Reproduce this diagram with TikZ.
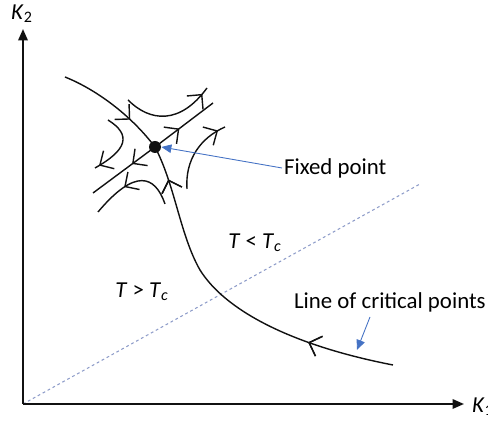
\documentclass[tikz,border=0pt]{standalone}
\usepackage{fontspec}
\setmainfont{Carlito}
\usetikzlibrary{arrows.meta,decorations.markings}
\definecolor{flowink}{HTML}{111111}
\definecolor{callout}{HTML}{4472C4}
\definecolor{critline}{HTML}{8E9CC9}
\newcommand{\isub}[2]{\textit{#1}\textsubscript{#2}}

\begin{document}
\begin{tikzpicture}[
  x=0.02cm, y=-0.02cm,
  font=\fontsize{13}{15}\selectfont,
  axis/.style={-{Triangle[length=2.3mm,width=1.9mm]}, draw=flowink, line width=1.1pt},
  flow/.style={draw=flowink, line width=0.8pt},
  barb at/.style={postaction={decorate}, decoration={markings,
      mark=at position #1 with {\arrow{Straight Barb[length=2.1mm,width=4.2mm,line width=0.8pt]}}}},
  callarr/.style={-{Triangle[length=2mm,width=1.7mm]}, draw=callout, line width=0.5pt},
  critpath/.style={draw=critline, line width=0.6pt, dash pattern=on 1.6pt off 1.6pt},
  fixpt/.style={circle, fill=flowink, inner sep=0pt, minimum size=0.24cm},
  lab/.style={inner sep=1pt},
]
\useasboundingbox (0,0) rectangle (488,421);

% ---- axes ----
\coordinate (o)    at (23,404);
\coordinate (xend) at (464,404);
\coordinate (yend) at (23,29);
\node[lab] (ky) at (22,14)            {\isub{K}{2}};
\node[lab, anchor=west] (kx) at (470,407) {\isub{K}{1}};
\draw[critpath] (o) -- (420,184);
\draw[axis] (o) -- (xend);
\draw[axis] (o) -- (yend);

% ---- fixed point + flows ----
\node[fixpt] (fp) at (155,147) {};
\draw[flow, barb at=0.68] (65,77) .. controls (95,89) and (130,114) .. (fp.center);
\draw[flow, barb at=0.25, barb at=0.9]
  (393,365) .. controls (290,345) and (225,310) .. (200,270)
            .. controls (180,235) and (175,185) .. (fp.center);
\draw[flow, barb at=0.42] (fp.center) -- (213,103);
\draw[flow, barb at=0.37] (fp.center) -- (93,193);
\draw[flow, barb at=0.92] (128,100) .. controls (150,122) and (180,125) .. (207,88);
\draw[flow, barb at=0.93] (108,120) .. controls (132,135) and (127,150) .. (95,168);
\draw[flow, barb at=0.6]  (165,204) .. controls (155,175) and (135,168) .. (98,212);
\draw[flow, barb at=0.9]  (187,189) .. controls (185,160) and (200,138) .. (225,127);

% ---- labels ----
\node[lab] (lo) at (255,243) {\textit{T} < \isub{T}{\textit{c}}};
\node[lab] (hi) at (142,292) {\textit{T} > \isub{T}{\textit{c}}};
\node[lab, anchor=west] (fplab) at (282,168) {Fixed point};
\node[lab, anchor=west] (crit)  at (292,302) {Line of critical points};

% ---- callouts ----
\coordinate (critfrom) at (370,317);
\coordinate (critto)   at (357,350);
\draw[callarr] (fplab.west) -- (fp.east);
\draw[callarr] (critfrom) -- (critto);

\end{tikzpicture}
\end{document}
